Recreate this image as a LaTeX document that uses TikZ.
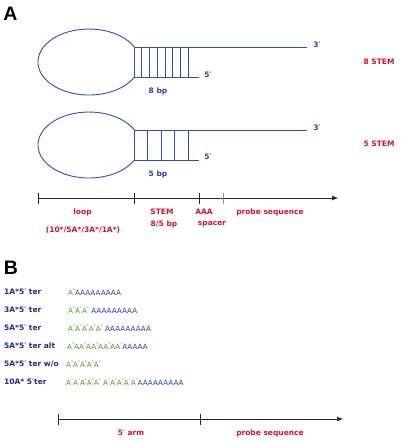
\documentclass[tikz,border=0pt]{standalone}
\usepackage{fontspec}
\setmainfont{DejaVu Sans}
\newfontfamily\bigfont{Liberation Sans}
\usetikzlibrary{arrows.meta}
\definecolor{lineblue}{RGB}{45,75,195}
\definecolor{txtblue}{RGB}{35,65,185}
\definecolor{darkblue}{RGB}{25,45,140}
\definecolor{myred}{RGB}{210,20,45}
\definecolor{mygreen}{RGB}{90,150,45}
\newcommand{\As}{A\raisebox{0.9ex}{\fontsize{4}{4}\selectfont *}}
\tikzset{
  strand/.style={draw=lineblue, line width=0.9pt},
  lbl/.style={font=\fontsize{7.5}{8}\selectfont\bfseries, inner sep=0pt},
  redlbl/.style={lbl, text=myred},
  bluelbl/.style={lbl, text=txtblue},
  rowlbl/.style={lbl, text=darkblue, anchor=west},
  seq/.style={font=\fontsize{7.2}{8}\selectfont, inner sep=0pt, anchor=west},
  axis/.style={draw=black!85, line width=0.6pt},
  axisarrow/.style={axis, -{Latex[length=6pt,width=5pt]}},
  tick/.style={draw=black!85, line width=0.6pt},
  panel/.style={font=\bigfont\fontsize{19.5}{20}\selectfont\bfseries, inner sep=0pt}
}
\begin{document}
\begin{tikzpicture}[x=1pt,y=1pt]
\useasboundingbox (0,0) rectangle (400,-442);
% panel letters
\node[panel] (pA) at (10.5,-14) {A};
\node[panel] (pB) at (11,-268) {B};

% hairpin 1 (8 stem)
\draw[strand] (134.4,-77) arc[start angle=-27, end angle=-333, x radius=51, y radius=33];
\draw[strand] (134,-47) -- (307,-47);
\draw[strand] (134,-77) -- (199,-77);
\foreach \i in {0,...,7} {\draw[strand] ({134+\i*7.75},-47) -- ({134+\i*7.75},-77);}
\node[bluelbl] (t1) at (317,-45) {3′};
\node[bluelbl] (f1) at (208,-75) {5′};
\node[bluelbl] (bp1) at (158,-91) {8 bp};
\node[redlbl] (s1) at (379,-62) {8 STEM};

% hairpin 2 (5 stem)
\draw[strand] (134.4,-160) arc[start angle=-27, end angle=-333, x radius=51, y radius=33];
\draw[strand] (134,-130) -- (307,-130);
\draw[strand] (134,-160) -- (199,-160);
\foreach \i in {0,...,4} {\draw[strand] ({134+\i*13.5},-130) -- ({134+\i*13.5},-160);}
\node[bluelbl] (t2) at (317,-128) {3′};
\node[bluelbl] (f2) at (208,-157) {5′};
\node[bluelbl] (bp2) at (158,-174) {5 bp};
\node[redlbl] (s2) at (379,-144) {5 STEM};

% axis A
\coordinate (a0) at (38,-198);
\coordinate (a1) at (134,-198);
\coordinate (a2) at (199,-198);
\coordinate (a3) at (223,-198);
\coordinate (aend) at (338,-198);
\draw[axisarrow] (a0) -- (aend);
\foreach \c in {a0,a1,a2} {\draw[tick] ([yshift=5.5pt]\c) -- ([yshift=-5.5pt]\c);}
\draw[tick, draw=black!45] ([yshift=5.5pt]a3) -- ([yshift=-5.5pt]a3);
\node[redlbl] (lloop) at (82.5,-212) {loop};
\node[redlbl] (lloop2) at (83,-230) {(10*/5A*/3A*/1A*)};
\node[redlbl] (lstem) at (162,-212) {STEM};
\node[redlbl] (lstem2) at (164,-224.5) {8/5 bp};
\node[redlbl] (laaa) at (204,-212) {AAA};
\node[redlbl] (lsp) at (212,-224.5) {spacer};
\node[redlbl] (lprobe) at (270,-212) {probe sequence};

% panel B rows
\node[rowlbl] (r1) at (4,-292) {1A*5′ ter};
\node[rowlbl] (r2) at (4,-310) {3A*5′ ter};
\node[rowlbl] (r3) at (4,-328) {5A*5′ ter};
\node[rowlbl] (r4) at (4,-346) {5A*5′ ter alt};
\node[rowlbl] (r5) at (4,-364) {5A*5′ ter w/o};
\node[rowlbl] (r6) at (4,-382) {10A* 5′ter};

\node[seq] (q1) at (68,-292) {\textcolor{mygreen}{\As}\textcolor{txtblue}{AAAAAAAAA}};
\node[seq] (q2) at (68,-310) {\textcolor{mygreen}{\As\As\As}\ \textcolor{txtblue}{AAAAAAAAA}};
\node[seq] (q3) at (68,-328) {\textcolor{mygreen}{\As\As\As\As\As}\ \textcolor{txtblue}{AAAAAAAAA}};
\node[seq] (q4) at (67,-346) {\textcolor{mygreen}{\As A\As A\As A\As A\As}\textcolor{txtblue}{AAAAA}};
\node[seq] (q5) at (66,-364) {\textcolor{mygreen}{\As\As\As\As\As}};
\node[seq] (q6) at (66,-382) {\textcolor{mygreen}{\As\As\As\As\As\ \As\As\As\As\As}\textcolor{txtblue}{AAAAAAAAA}};

% axis B
\coordinate (b0) at (58,-419);
\coordinate (b1) at (200,-419);
\coordinate (bend) at (343,-419);
\draw[axisarrow] (b0) -- (bend);
\foreach \c in {b0,b1} {\draw[tick] ([yshift=5.5pt]\c) -- ([yshift=-5.5pt]\c);}
\node[redlbl] (larm) at (131,-433) {5′ arm};
\node[redlbl] (lprobe2) at (270,-433) {probe sequence};
\end{tikzpicture}
\end{document}
